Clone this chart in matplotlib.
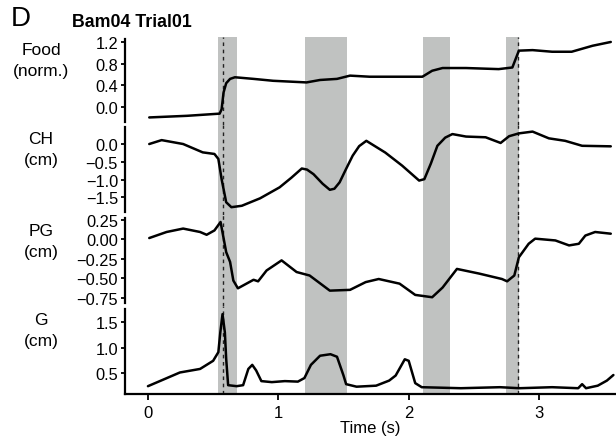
import matplotlib
matplotlib.use("Agg")
import matplotlib.pyplot as plt

plt.rcParams['font.family'] = ['Liberation Sans', 'DejaVu Sans']

# ---- data ----
food_t = [0.01, 0.30, 0.55, 0.565, 0.58, 0.60, 0.63, 0.667, 0.81, 0.96, 1.216, 1.32, 1.45, 1.55, 1.70,
          1.85, 2.105, 2.18, 2.26, 2.44, 2.69, 2.795, 2.82, 2.845, 2.95, 3.10, 3.25, 3.41, 3.55]
food_v = [-0.19, -0.16, -0.12, -0.04, 0.27, 0.44, 0.52, 0.55, 0.52, 0.485, 0.455, 0.50, 0.52, 0.58, 0.56,
          0.56, 0.56, 0.67, 0.72, 0.72, 0.70, 0.73, 0.885, 1.04, 1.05, 1.02, 1.02, 1.13, 1.20]

ch_t = [0.01, 0.105, 0.27, 0.42, 0.51, 0.54, 0.565, 0.60, 0.64, 0.72, 0.86, 1.01, 1.10, 1.18, 1.22, 1.27,
        1.34, 1.395, 1.43, 1.47, 1.52, 1.57, 1.62, 1.675, 1.82, 1.95, 2.08, 2.12, 2.17, 2.22, 2.28, 2.335,
        2.44, 2.59, 2.705, 2.77, 2.845, 2.95, 3.075, 3.20, 3.33, 3.55]
ch_v = [0.0, 0.11, 0.0, -0.235, -0.28, -0.42, -0.99, -1.64, -1.78, -1.74, -1.53, -1.22, -0.95, -0.69,
        -0.72, -0.85, -1.12, -1.29, -1.26, -1.08, -0.70, -0.33, -0.06, 0.09, -0.24, -0.61, -1.03, -0.99,
        -0.55, -0.05, 0.18, 0.28, 0.21, 0.19, 0.03, 0.22, 0.30, 0.35, 0.16, 0.09, -0.05, -0.065]

pg_t = [0.01, 0.143, 0.27, 0.40, 0.45, 0.51, 0.557, 0.60, 0.63, 0.655, 0.69, 0.81, 0.845, 0.91, 1.025,
        1.14, 1.24, 1.395, 1.55, 1.67, 1.77, 1.93, 2.05, 2.18, 2.26, 2.37, 2.54, 2.715, 2.755, 2.81,
        2.845, 2.92, 2.97, 3.125, 3.23, 3.305, 3.355, 3.43, 3.55]
pg_v = [0.018, 0.096, 0.14, 0.096, 0.06, 0.116, 0.225, -0.163, -0.29, -0.53, -0.63, -0.52, -0.54, -0.40,
        -0.27, -0.42, -0.465, -0.66, -0.65, -0.55, -0.51, -0.57, -0.715, -0.745, -0.62, -0.38, -0.44,
        -0.51, -0.54, -0.465, -0.23, -0.056, 0.01, -0.013, -0.077, -0.056, 0.05, 0.096, 0.074]

g_t = [0.0, 0.1, 0.245, 0.40, 0.50, 0.54, 0.555, 0.572, 0.59, 0.60, 0.615, 0.68, 0.73, 0.77, 0.80, 0.83,
       0.87, 0.95, 1.05, 1.15, 1.20, 1.25, 1.32, 1.40, 1.45, 1.50, 1.52, 1.60, 1.75, 1.85, 1.90, 1.97,
       2.00, 2.05, 2.10, 2.40, 2.70, 2.85, 3.10, 3.30, 3.33, 3.36, 3.45, 3.52, 3.57]
g_v = [0.24, 0.35, 0.51, 0.58, 0.74, 0.91, 1.30, 1.66, 1.30, 0.78, 0.26, 0.24, 0.26, 0.58, 0.66, 0.55,
       0.34, 0.32, 0.34, 0.33, 0.40, 0.66, 0.84, 0.87, 0.82, 0.45, 0.28, 0.23, 0.25, 0.35, 0.45, 0.77,
       0.74, 0.30, 0.22, 0.20, 0.22, 0.20, 0.22, 0.20, 0.28, 0.20, 0.25, 0.35, 0.46]

bands = [(0.536, 0.68), (1.203, 1.523), (2.107, 2.319), (2.743, 2.845)]
events = [0.572, 2.835]

labels = ["Food\n(norm.)", "CH\n(cm)", "PG\n(cm)", "G\n(cm)"]
yticks = [[0.0, 0.4, 0.8, 1.2], [0.0, -0.5, -1.0, -1.5], [0.25, 0.0, -0.25, -0.5, -0.75], [0.5, 1.0, 1.5]]
ytick_labels = [["0.0", "0.4", "0.8", "1.2"], ["0.0", "\u22120.5", "\u22121.0", "\u22121.5"],
                ["0.25", "0.00", "\u22120.25", "\u22120.50", "\u22120.75"], ["0.5", "1.0", "1.5"]]
xticks = [0, 1, 2, 3]
title = "Bam04 Trial01"

# ---- layout ----
W, H = 616, 439
fig = plt.figure(figsize=(W / 100, H / 100), dpi=100)

bounds_px = [37.7, 125.5, 216, 307, 395]
ylims = [(-0.32, 1.297), (-2.0, 0.55), (-0.858, 0.315), (0.086, 1.82)]
spine_b = [(-0.27, 1.255), (-1.92, 0.47), (-0.823, 0.277), (0.086, 1.76)]
label_y_px = [61, 150.5, 242, 331]
xlim = (-0.176, 3.59)

series = [(food_t, food_v), (ch_t, ch_v), (pg_t, pg_v), (g_t, g_v)]
left = 125 / W
for i in range(4):
    top = 1 - bounds_px[i] / H
    bot = 1 - bounds_px[i + 1] / H
    ax = fig.add_axes([left, bot, 1 - left, top - bot])
    ax.patch.set_alpha(0)
    for a, b in bands:
        ax.axvspan(a, b, color='#c0c2c1', lw=0, zorder=0)
    for e in events:
        ax.axvline(e, color='#222222', lw=1.0, ls=(0, (2.6, 2.6)), zorder=1)
    t, v = series[i]
    ax.plot(t, v, color='black', lw=1.8, zorder=3, solid_joinstyle='round', solid_capstyle='round')
    ax.set_xlim(*xlim)
    ax.set_ylim(*ylims[i])
    ax.set_yticks(yticks[i])
    ax.set_yticklabels(ytick_labels[i])
    for s in ['top', 'right']:
        ax.spines[s].set_visible(False)
    ax.spines['left'].set_linewidth(1.6)
    ax.spines['left'].set_bounds(*spine_b[i])
    ax.tick_params(axis='y', direction='out', length=3, width=1.3, pad=2, labelsize=11.8)
    if i < 3:
        ax.spines['bottom'].set_visible(False)
        ax.set_xticks([])
    else:
        ax.spines['bottom'].set_linewidth(1.6)
        ax.set_xticks(xticks)
        ax.set_xticklabels([str(x) for x in xticks])
        ax.tick_params(axis='x', direction='out', length=4, width=1.3, pad=4, labelsize=12)
        ax.set_xlabel("Time (s)", fontsize=12, labelpad=0)
    fig.text(41 / W, 1 - label_y_px[i] / H, labels[i], ha='center', va='center',
             fontsize=12.5, linespacing=1.5)

fig.text(11 / W, 1 - 25.5 / H, "D", fontsize=20, ha='left', va='baseline')
fig.text(72 / W, 1 - 27.3 / H, title, fontsize=12.8, fontweight='bold', ha='left', va='baseline')

fig.savefig("out.png", dpi=100)
